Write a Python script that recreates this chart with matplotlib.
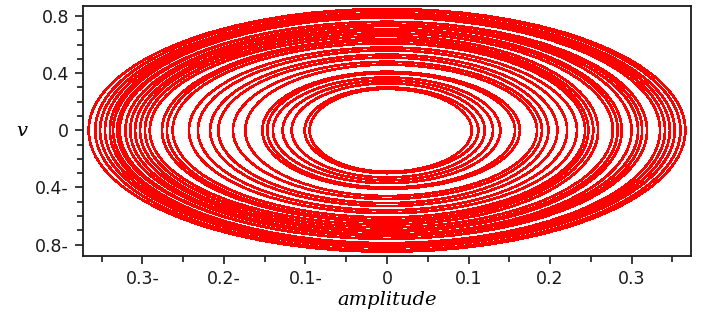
import matplotlib
matplotlib.use("Agg")
import matplotlib.pyplot as plt
from matplotlib.patches import Arc

# ring amplitudes (x semi-axis on each side, y semi-axis)
left_amp = [0.095, 0.101, 0.117, 0.128, 0.140, 0.147, 0.153, 0.174, 0.189, 0.207,
            0.217, 0.232, 0.243, 0.263, 0.270, 0.276, 0.291, 0.297, 0.303, 0.309,
            0.315, 0.321, 0.328, 0.331, 0.336, 0.340, 0.346, 0.352, 0.358, 0.366]
right_amp = [0.104, 0.112, 0.120, 0.130, 0.139, 0.157, 0.163, 0.184, 0.190, 0.198,
             0.209, 0.221, 0.233, 0.243, 0.247, 0.253, 0.259, 0.277, 0.283, 0.288,
             0.300, 0.308, 0.313, 0.319, 0.335, 0.341, 0.347, 0.353, 0.360, 0.366]
v_amp = [0.29, 0.30, 0.33, 0.35, 0.37, 0.40, 0.41, 0.46, 0.48, 0.51,
         0.53, 0.56, 0.58, 0.61, 0.63, 0.64, 0.66, 0.68, 0.70, 0.71,
         0.73, 0.74, 0.76, 0.76, 0.79, 0.80, 0.81, 0.82, 0.84, 0.85]

x_ticks = [-0.3, -0.2, -0.1, 0.0, 0.1, 0.2, 0.3]
x_labels = ["0.3-", "0.2-", "0.1-", "0", "0.1", "0.2", "0.3"]
y_ticks = [-0.8, -0.4, 0.0, 0.4, 0.8]
y_labels = ["0.8-", "0.4-", "0", "0.4", "0.8"]

fig = plt.figure(figsize=(7.03, 3.2), dpi=100)
ax = fig.add_axes([0.118, 0.2, 0.865, 0.781])

red = "#ff0000"
for a_l, a_r, b in zip(left_amp, right_amp, v_amp):
    ax.add_patch(Arc((0, 0), 2 * a_r, 2 * b, theta1=-90, theta2=90,
                     color=red, lw=1.2, antialiased=False))
    ax.add_patch(Arc((0, 0), 2 * a_l, 2 * b, theta1=90, theta2=270,
                     color=red, lw=1.2, antialiased=False))

ax.set_xlim(-0.373, 0.373)
ax.set_ylim(-0.88, 0.87)

ax.set_xticks(x_ticks)
ax.set_xticklabels(x_labels)
ax.set_xticks([-0.35, -0.25, -0.15, -0.05, 0.05, 0.15, 0.25, 0.35], minor=True)
ax.set_yticks(y_ticks)
ax.set_yticklabels(y_labels)
ax.set_yticks([-0.7, -0.6, -0.5, -0.3, -0.2, -0.1, 0.1, 0.2, 0.3, 0.5, 0.6, 0.7], minor=True)

ax.tick_params(which="major", direction="out", length=6, width=1.2, labelsize=12.5,
               colors="#1a1a1a", pad=4)
ax.tick_params(which="minor", direction="out", length=4, width=1.2, colors="#1a1a1a")
for s in ax.spines.values():
    s.set_linewidth(1.3)
    s.set_color("#1a1a1a")

ax.set_xlabel("amplitude", family="DejaVu Serif", style="italic", fontsize=14, labelpad=2)
ax.set_ylabel("v", family="DejaVu Serif", style="italic", fontsize=14, rotation=0,
              labelpad=10, va="center")

fig.savefig("out.png", dpi=100)
